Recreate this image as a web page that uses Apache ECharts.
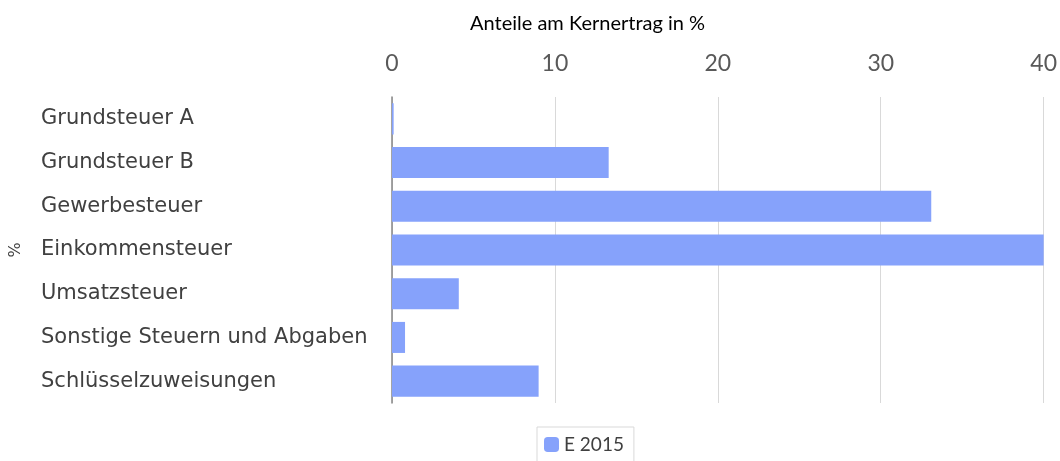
<!DOCTYPE html>
<html>
<head>
<meta charset="utf-8">
<script src="https://cdn.jsdelivr.net/npm/echarts@6/dist/echarts.min.js"></script>
<style>
  html, body { margin: 0; padding: 0; background: #fff; }
  #chart { width: 1060px; height: 461px; }
</style>
</head>
<body>
<div id="chart"></div>
<script>
// Kategorien (von oben nach unten)
const categories = [
  'Grundsteuer A',
  'Grundsteuer B',
  'Gewerbesteuer',
  'Einkommensteuer',
  'Umsatzsteuer',
  'Sonstige Steuern und Abgaben',
  'Schlüsselzuweisungen'
]
// Anteile am Kernertrag in %
const values2015 = [0.1, 13.3, 33.1, 40.0, 4.1, 0.8, 9.0]
const seriesName = 'E 2015'
const axisTicks = [0, 10, 20, 30, 40]

const chart = echarts.init(document.getElementById('chart'))
chart.setOption({
  animation: false,
  title: {
    text: 'Anteile am Kernertrag in %',
    left: 465,
    top: 9,
    textStyle: { fontFamily: 'Lato', fontSize: 20, fontWeight: 'normal', color: '#000' }
  },
  legend: {
    data: [seriesName],
    left: 537,
    top: 427,
    itemWidth: 15,
    itemHeight: 15,
    itemGap: 6,
    borderColor: '#d9d9d9',
    borderWidth: 1,
    padding: [8, 10, 8, 7],
    textStyle: { fontFamily: 'Lato', fontSize: 19, color: '#404040' }
  },
  grid: { left: 391, right: 15, top: 97, bottom: 58 },
  xAxis: {
    type: 'value',
    position: 'top',
    min: axisTicks[0],
    max: axisTicks[axisTicks.length - 1],
    interval: 10,
    axisLine: { show: false },
    axisTick: { show: false },
    axisLabel: { fontFamily: 'Lato', fontSize: 23, color: '#595959', margin: 22 },
    splitLine: { lineStyle: { color: '#d9d9d9', width: 1 } }
  },
  yAxis: {
    type: 'category',
    inverse: true,
    data: categories,
    name: '%',
    nameLocation: 'middle',
    nameRotate: 90,
    nameGap: 368,
    nameTextStyle: { fontFamily: 'DejaVu Sans', fontSize: 16, color: '#404040' },
    axisLine: { lineStyle: { color: '#868686', width: 1.5 } },
    axisTick: { show: false },
    axisLabel: {
      fontFamily: 'DejaVu Sans',
      fontSize: 21,
      color: '#404040',
      align: 'left',
      margin: 351
    }
  },
  series: [{
    name: seriesName,
    type: 'bar',
    data: values2015,
    barCategoryGap: '29%',
    itemStyle: { color: '#86a2fb' }
  }]
})
</script>
</body>
</html>
